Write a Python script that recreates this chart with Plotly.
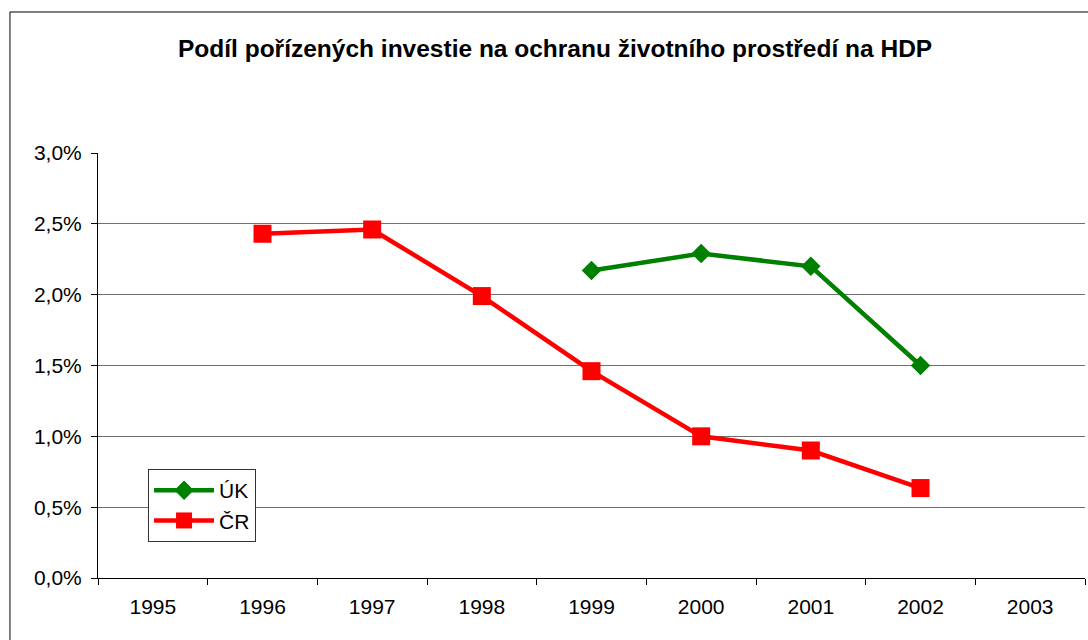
import plotly.graph_objects as go

# roky a hodnoty (podíl na HDP v %)
years = ['1995', '1996', '1997', '1998', '1999', '2000', '2001', '2002', '2003']
uk = [None, None, None, None, 2.17, 2.29, 2.20, 1.50, None]
cr = [None, 2.43, 2.46, 1.99, 1.46, 1.00, 0.90, 0.635, None]

font = 'Liberation Sans, Arial, sans-serif'

fig = go.Figure()
fig.add_trace(go.Scatter(x=years, y=uk, name='ÚK', mode='lines+markers',
                         line=dict(color='#008000', width=4.5),
                         marker=dict(symbol='diamond', size=15, color='#008000')))
fig.add_trace(go.Scatter(x=years, y=cr, name='ČR', mode='lines+markers',
                         line=dict(color='#FF0000', width=4.5),
                         marker=dict(symbol='square', size=18, color='#FF0000')))

fig.update_layout(
    width=1088, height=640,
    margin=dict(l=98, r=3, t=153, b=62),
    paper_bgcolor='white', plot_bgcolor='white',
    font=dict(family=font, size=21, color='black'),
    separators=', ',
    showlegend=True,
    legend=dict(x=0.0507, y=0.2565, xanchor='left', yanchor='top',
                bgcolor='white', bordercolor='#333333', borderwidth=1,
                font=dict(size=21), itemwidth=60, tracegroupgap=0),
    xaxis=dict(type='category', range=[-0.5, 8.5], tickson='boundaries',
               ticks='outside', ticklen=6, tickcolor='black',
               ticklabelstandoff=10,
               showline=True, linecolor='black', linewidth=1,
               showgrid=False, fixedrange=True),
    yaxis=dict(range=[0, 3], dtick=0.5, tickformat='.1f', ticksuffix='%',
               ticks='outside', ticklen=6, tickcolor='black',
               ticklabelstandoff=5,
               showline=True, linecolor='black', linewidth=1,
               showgrid=True, gridcolor='#707070', gridwidth=1,
               zeroline=False, fixedrange=True),
    annotations=[dict(text='<b>Podíl pořízených investie na ochranu životního prostředí na HDP</b>',
                      xref='paper', yref='paper', x=0.463, y=1.247,
                      xanchor='center', yanchor='middle', showarrow=False,
                      font=dict(size=24.5, family=font))],
    shapes=[dict(type='rect', xref='paper', yref='paper',
                 x0=-0.0892, y0=-0.4, x1=1.05, y1=1.3318,
                 line=dict(color='black', width=1), layer='below')],
)

fig.write_html("out.html", config=dict(displayModeBar=False),
               post_script="document.body.style.margin='0';document.body.style.overflow='hidden';")
